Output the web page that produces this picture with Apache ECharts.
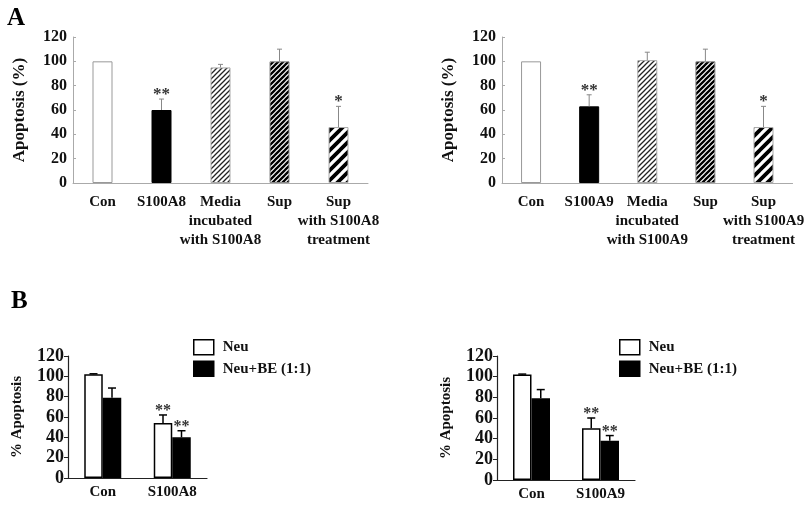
<!DOCTYPE html>
<html>
<head>
<meta charset="utf-8">
<script src="https://cdn.jsdelivr.net/npm/echarts@6/dist/echarts.min.js"></script>
<style>html,body{margin:0;padding:0;background:#fff;}#c{width:807px;height:505px;}</style>
</head>
<body>
<div id="c"></div>
<script>
// ---- data ----
const catsA8 = ['Con', 'S100A8', 'Media\nincubated\nwith S100A8', 'Sup', 'Sup\nwith S100A8\ntreatment'];
const valsA8 = [100, 60, 95, 100, 46];
const sdA8 = [0, 9, 2.5, 10, 17];
const sigA8 = ['', '**', '', '', '*'];

const catsA9 = ['Con', 'S100A9', 'Media\nincubated\nwith S100A9', 'Sup', 'Sup\nwith S100A9\ntreatment'];
const valsA9 = [100, 63, 101, 100, 46];
const sdA9 = [0, 9.5, 6.5, 10, 17];
const sigA9 = ['', '**', '', '', '*'];

const catsB8 = ['Con', 'S100A8'];
const neuB8 = [102, 54];
const neuSdB8 = [0.5, 8];
const beB8 = [79, 40];
const beSdB8 = [9.5, 6.5];
const sigNeuB8 = ['', '**'];
const sigBeB8 = ['', '**'];

const catsB9 = ['Con', 'S100A9'];
const neuB9 = [102, 50];
const neuSdB9 = [0.5, 10];
const beB9 = [79, 38];
const beSdB9 = [8.5, 5];
const sigNeuB9 = ['', '**'];
const sigBeB9 = ['', '**'];

const yTicks = [0, 20, 40, 60, 80, 100, 120];

// ---- styles ----
const FONT = '"Liberation Serif", "Times New Roman", serif';
function hatch(period, lw, color) {
  const c = document.createElement('canvas');
  c.width = period; c.height = period;
  const g = c.getContext('2d');
  g.fillStyle = '#fff'; g.fillRect(0, 0, period, period);
  g.strokeStyle = color; g.lineWidth = lw; g.lineCap = 'square';
  g.beginPath();
  for (let k = -1; k <= 1; k++) { g.moveTo(k * period, period); g.lineTo(k * period + period, 0); }
  g.stroke();
  return { image: c, repeat: 'repeat' };
}
const topStyles = [
  { color: '#fff', borderColor: '#999', borderWidth: 1 },
  { color: '#000', borderColor: '#000', borderWidth: 1 },
  { color: hatch(5, 1.3, '#222'), borderColor: '#aaa', borderWidth: 1 },
  { color: hatch(5, 2.3, '#000'), borderColor: '#888', borderWidth: 1 },
  { color: hatch(10, 3.8, '#000'), borderColor: '#aaa', borderWidth: 1 }
];

function errRender(offset, capW, color, lw, sig, fs) {
  return function (params, api) {
    const i = api.value(0), v = api.value(1), sd = api.value(2);
    const b = api.coord([i, v]);
    const t = api.coord([i, v + sd]);
    const x = b[0] + offset;
    const ch = [];
    if (sd > 0) {
      ch.push({ type: 'line', shape: { x1: x, y1: b[1], x2: x, y2: t[1] }, style: { stroke: color, lineWidth: lw } });
      ch.push({ type: 'line', shape: { x1: x - capW / 2, y1: t[1], x2: x + capW / 2, y2: t[1] }, style: { stroke: color, lineWidth: lw } });
    }
    if (sig[i]) {
      ch.push({ type: 'text', style: { text: sig[i], x: x, y: t[1] + 4, align: 'center', verticalAlign: 'bottom', fill: '#333', font: 'bold ' + fs + 'px ' + FONT } });
    }
    return { type: 'group', children: ch };
  };
}

function topX(idx, cats) {
  return {
    type: 'category', gridIndex: idx, data: cats,
    axisLine: { lineStyle: { color: '#aaa', width: 1 } },
    axisTick: { inside: true, length: 6, lineStyle: { color: '#aaa' } },
    axisLabel: { interval: 0, color: '#111', fontFamily: FONT, fontWeight: 'bold', fontSize: 15, lineHeight: 19, margin: 10 }
  };
}
function topY(idx) {
  return {
    type: 'value', gridIndex: idx, min: 0, max: 120, interval: 20,
    name: 'Apoptosis (%)', nameLocation: 'middle', nameGap: 45, nameRotate: 90,
    nameTextStyle: { color: '#111', fontFamily: FONT, fontWeight: 'bold', fontSize: 17 },
    axisLine: { show: true, lineStyle: { color: '#aaa', width: 1 } },
    axisTick: { show: true, inside: true, length: 3, lineStyle: { color: '#aaa' } },
    splitLine: { show: false },
    axisLabel: { color: '#111', fontFamily: FONT, fontWeight: 'bold', fontSize: 16, margin: 6,
      formatter: v => yTicks.includes(v) ? String(v) : '' }
  };
}
function botX(idx, cats) {
  return {
    type: 'category', gridIndex: idx, data: cats,
    axisLine: { lineStyle: { color: '#222', width: 1.2 } },
    axisTick: { inside: true, length: 6, lineStyle: { color: '#222' } },
    axisLabel: { interval: 0, color: '#111', fontFamily: FONT, fontWeight: 'bold', fontSize: 15, margin: 7 }
  };
}
function botY(idx) {
  return {
    type: 'value', gridIndex: idx, min: 0, max: 120, interval: 20,
    name: '% Apoptosis', nameLocation: 'middle', nameGap: 43, nameRotate: 90,
    nameTextStyle: { color: '#111', fontFamily: FONT, fontWeight: 'bold', fontSize: 15 },
    axisLine: { show: true, lineStyle: { color: '#222', width: 1.2 } },
    axisTick: { show: true, inside: false, length: 4, lineStyle: { color: '#222' } },
    splitLine: { show: false },
    axisLabel: { color: '#111', fontFamily: FONT, fontWeight: 'bold', fontSize: 18, margin: 4,
      formatter: v => yTicks.includes(v) ? String(v) : '' }
  };
}

function topSeries(idx, vals, sds, sig) {
  return [
    { type: 'bar', xAxisIndex: idx, yAxisIndex: idx, barWidth: 20, silent: true,
      data: vals.map((v, i) => ({ value: v, itemStyle: topStyles[i] })) },
    { type: 'custom', xAxisIndex: idx, yAxisIndex: idx, z: 5, silent: true,
      renderItem: errRender(0, 5, '#888', 1, sig, 17),
      data: vals.map((v, i) => [i, v, sds[i]]) }
  ];
}
function botSeries(idx, neu, neuSd, be, beSd, sigN, sigB) {
  const bw = 18.5;
  return [
    { name: 'Neu', type: 'bar', xAxisIndex: idx, yAxisIndex: idx, barWidth: bw, barGap: '0%', silent: true,
      itemStyle: { color: '#fff', borderColor: '#000', borderWidth: 1.5 }, data: neu },
    { name: 'Neu+BE (1:1)', type: 'bar', xAxisIndex: idx, yAxisIndex: idx, barWidth: bw, barGap: '0%', silent: true,
      itemStyle: { color: '#000', borderColor: '#000', borderWidth: 1.5 }, data: be },
    { type: 'custom', xAxisIndex: idx, yAxisIndex: idx, z: 5, silent: true,
      renderItem: errRender(-bw / 2, 8, '#000', 1.5, sigN, 16),
      data: neu.map((v, i) => [i, v, neuSd[i]]) },
    { type: 'custom', xAxisIndex: idx, yAxisIndex: idx, z: 5, silent: true,
      renderItem: errRender(bw / 2, 8, '#000', 1.5, sigB, 16),
      data: be.map((v, i) => [i, v, beSd[i]]) }
  ];
}

const legendBase = {
  orient: 'vertical', icon: 'rect', padding: 0, itemWidth: 20, itemHeight: 15, itemGap: 5,
  itemStyle: { borderWidth: 1.5 },
  textStyle: { color: '#111', fontFamily: FONT, fontWeight: 'bold', fontSize: 15, padding: [0, 0, 0, 4] },
  data: ['Neu', 'Neu+BE (1:1)'], selectedMode: false
};

const chart = echarts.init(document.getElementById('c'));
chart.setOption({
  animation: false,
  backgroundColor: '#fff',
  title: [
    { text: 'A', left: 2, top: 1, textStyle: { fontFamily: FONT, fontWeight: 'bold', fontSize: 25, color: '#000' } },
    { text: 'B', left: 6, top: 284, textStyle: { fontFamily: FONT, fontWeight: 'bold', fontSize: 25, color: '#000' } }
  ],
  legend: [
    Object.assign({}, legendBase, { left: 193, top: 339 }),
    Object.assign({}, legendBase, { left: 619, top: 339 })
  ],
  grid: [
    { left: 73, top: 37, width: 295, height: 146 },
    { left: 502, top: 37, width: 292, height: 146 },
    { left: 68, top: 356, width: 139, height: 122 },
    { left: 497, top: 356, width: 138, height: 124 }
  ],
  xAxis: [topX(0, catsA8), topX(1, catsA9), botX(2, catsB8), botX(3, catsB9)],
  yAxis: [topY(0), topY(1), botY(2), botY(3)],
  series: [].concat(
    topSeries(0, valsA8, sdA8, sigA8),
    topSeries(1, valsA9, sdA9, sigA9),
    botSeries(2, neuB8, neuSdB8, beB8, beSdB8, sigNeuB8, sigBeB8),
    botSeries(3, neuB9, neuSdB9, beB9, beSdB9, sigNeuB9, sigBeB9)
  )
});
</script>
</body>
</html>
